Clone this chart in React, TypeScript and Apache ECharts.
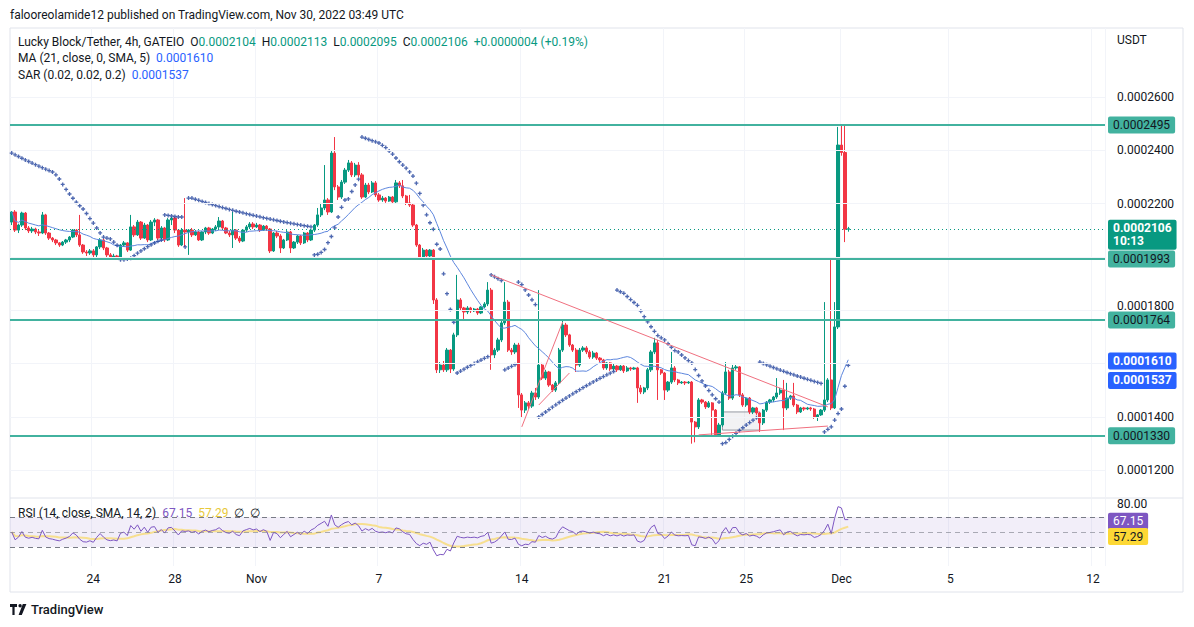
import React, { useEffect, useRef } from "react";
import * as echarts from "echarts";

// ---------- data (prices in units of 1e-7 USDT) ----------
const UNIT = 1e-7;
const SLOT_COUNT = 322; // 4h slots from Oct 20 2022 00:00 UTC, incl. empty future slots
const START_UTC = Date.UTC(2022, 9, 20, 0, 0);
const BAR_MS = 4 * 3600 * 1000;

// [open, close, low, high]
const candles: number[][] = [
  [2131,2169,2120,2172],[2169,2101,2094,2176],[2101,2120,2090,2125],[2120,2165,2113,2170],[2165,2109,2101,2169],
  [2109,2098,2090,2116],[2098,2105,2090,2113],[2105,2094,2086,2110],[2094,2090,2079,2101],[2090,2158,2086,2169],
  [2158,2090,2083,2162],[2090,2071,2064,2094],[2071,2064,2056,2075],[2064,2053,2045,2068],[2053,2045,2038,2056],
  [2045,2056,2041,2060],[2056,2064,2049,2068],[2064,2075,2056,2079],[2075,2101,2071,2105],[2101,2083,2075,2105],
  [2083,2045,2038,2158],[2045,2019,2012,2049],[2019,2015,2004,2026],[2015,2023,2008,2030],[2023,2008,1996,2030],
  [2008,2038,1993,2041],[2038,2064,2030,2071],[2064,2034,2026,2068],[2034,2008,2000,2038],[2008,2000,1993,2015],
  [2000,2004,1990,2012],[2004,1996,1990,2008],[1996,2045,1993,2049],[2045,2053,2038,2060],[2053,2026,2019,2056],
  [2026,2113,2023,2158],[2113,2083,2075,2120],[2083,2131,2079,2139],[2131,2071,2064,2135],[2071,2120,2068,2128],
  [2120,2064,2056,2124],[2064,2131,2060,2139],[2131,2139,2116,2146],[2139,2071,2064,2143],[2071,2109,2068,2116],
  [2109,2064,2056,2113],[2064,2139,2060,2146],[2139,2146,2120,2150],[2146,2101,2090,2150],[2101,2045,2038,2105],
  [2045,2101,2041,2109],[2101,2094,2038,2221],[2094,2101,2008,2105],[2101,2083,2075,2109],[2083,2094,2079,2101],
  [2094,2064,2060,2098],[2064,2094,2060,2098],[2094,2109,2086,2113],[2109,2090,2083,2113],[2090,2105,2086,2109],
  [2105,2113,2098,2120],[2113,2135,2105,2150],[2135,2109,2101,2139],[2109,2090,2086,2113],[2090,2083,2075,2098],
  [2083,2101,2034,2169],[2101,2071,2064,2105],[2071,2060,2053,2079],[2060,2101,2056,2105],[2101,2113,2094,2120],
  [2113,2124,2105,2131],[2124,2113,2105,2131],[2113,2120,2109,2128],[2120,2101,2094,2124],[2101,2116,2098,2120],
  [2116,2105,2098,2120],[2105,2023,2015,2109],[2023,2090,2019,2094],[2090,2079,2071,2098],[2079,2034,2015,2086],
  [2034,2064,2030,2068],[2064,2094,2060,2101],[2094,2034,2015,2098],[2034,2056,2030,2060],[2056,2079,2049,2083],
  [2079,2053,2045,2083],[2053,2090,2049,2094],[2090,2064,2056,2094],[2064,2101,2060,2105],[2101,2120,2094,2124],
  [2120,2158,2113,2184],[2158,2184,2150,2203],[2184,2214,2176,2345],[2214,2169,2158,2221],[2169,2390,2165,2401],
  [2390,2263,2251,2450],[2263,2225,2214,2270],[2225,2281,2218,2289],[2281,2326,2274,2334],[2326,2353,2319,2364],
  [2353,2308,2300,2360],[2308,2345,2300,2353],[2345,2308,2300,2356],[2308,2225,2218,2315],[2225,2270,2221,2278],
  [2270,2244,2236,2278],[2244,2278,2240,2285],[2278,2233,2225,2285],[2233,2214,2207,2240],[2214,2221,2207,2229],
  [2221,2210,2203,2225],[2210,2225,2207,2229],[2225,2207,2199,2229],[2207,2278,2203,2289],[2278,2267,2259,2285],
  [2267,2229,2221,2289],[2229,2203,2195,2233],[2203,2195,2188,2233],[2195,2120,2113,2199],[2120,2045,2038,2124],
  [2045,2000,1993,2049],[2000,2026,1996,2034],[2026,2004,1996,2030],[2004,2026,2000,2030],[2026,1839,1824,2030],
  [1839,1577,1565,1846],[1577,1595,1565,1606],[1595,1577,1569,1610],[1577,1651,1569,1659],[1651,1580,1565,1655],
  [1580,1708,1573,1716],[1708,1839,1700,1933],[1839,1809,1798,1846],[1809,1794,1764,1813],[1794,1809,1786,1816],
  [1809,1798,1790,1813],[1798,1805,1794,1809],[1805,1790,1783,1809],[1790,1813,1786,1816],[1813,1824,1809,1831],
  [1824,1876,1816,1906],[1876,1633,1577,1884],[1633,1651,1621,1659],[1651,1689,1644,1697],[1689,1753,1681,1760],
  [1753,1831,1745,1906],[1831,1651,1644,1839],[1651,1644,1633,1659],[1644,1670,1636,1678],[1670,1483,1434,1678],
  [1483,1426,1400,1490],[1426,1453,1415,1460],[1453,1441,1430,1460],[1441,1490,1434,1498],[1490,1475,1464,1509],
  [1475,1595,1468,1876],[1595,1546,1539,1603],[1546,1569,1539,1577],[1569,1520,1513,1573],[1520,1501,1494,1524],
  [1501,1528,1494,1535],[1528,1651,1520,1659],[1651,1745,1644,1760],[1745,1708,1700,1753],[1708,1670,1663,1712],
  [1670,1651,1644,1674],[1651,1595,1569,1659],[1595,1651,1588,1659],[1651,1659,1644,1666],[1659,1644,1636,1666],
  [1644,1625,1618,1651],[1625,1640,1618,1648],[1640,1621,1614,1644],[1621,1614,1606,1625],[1614,1584,1577,1618],
  [1584,1603,1577,1606],[1603,1580,1573,1606],[1580,1591,1573,1599],[1591,1577,1569,1595],[1577,1591,1573,1595],
  [1591,1573,1565,1595],[1573,1584,1569,1591],[1584,1580,1573,1588],[1580,1584,1577,1588],[1584,1509,1453,1588],
  [1509,1494,1486,1520],[1494,1509,1486,1513],[1509,1577,1501,1584],[1577,1644,1569,1651],[1644,1678,1636,1697],
  [1678,1577,1464,1689],[1577,1565,1558,1580],[1565,1501,1464,1569],[1501,1531,1494,1535],[1531,1584,1524,1644],
  [1584,1539,1531,1591],[1539,1528,1520,1543],[1528,1531,1524,1535],[1531,1528,1520,1535],[1528,1531,1524,1535],
  [1531,1381,1300,1535],[1381,1363,1305,1385],[1363,1464,1355,1471],[1464,1456,1449,1468],[1456,1438,1430,1460],
  [1438,1453,1434,1460],[1453,1426,1325,1456],[1426,1333,1325,1430],[1333,1370,1325,1378],[1370,1490,1363,1498],
  [1490,1569,1483,1606],[1569,1471,1464,1577],[1471,1584,1464,1595],[1584,1588,1577,1595],[1588,1483,1475,1591],
  [1483,1445,1438,1490],[1445,1471,1438,1475],[1471,1419,1411,1475],[1419,1434,1411,1438],[1434,1415,1408,1438],
  [1415,1378,1344,1419],[1378,1426,1370,1430],[1426,1456,1419,1460],[1456,1464,1449,1468],[1464,1475,1456,1479],
  [1475,1490,1468,1546],[1490,1501,1483,1509],[1501,1434,1351,1539],[1434,1471,1426,1528],[1471,1479,1464,1483],
  [1479,1445,1438,1528],[1445,1419,1411,1449],[1419,1434,1415,1438],[1434,1430,1423,1438],[1430,1434,1426,1438],
  [1434,1430,1423,1438],[1430,1400,1393,1434],[1400,1408,1385,1411],[1408,1426,1404,1430],[1426,1464,1419,1831],
  [1464,1539,1456,1546],[1539,1434,1426,1996],[1434,1738,1430,1831],[1738,2420,1730,2488],[2420,2392,2380,2497],
  [2392,2104,2056,2497],[2104,2106,2095,2113],
];

const dateTickSlots = [24, 48, 72, 108, 150, 192, 216, 244, 276, 318];
const dateTickLabels = ["24", "28", "Nov", "7", "14", "21", "25", "Dec", "5", "12"];
const priceTickLabels = [0.00012, 0.00014, 0.00018, 0.00022, 0.00024, 0.00026];
const priceGridValues = [0.00012, 0.00014, 0.00016, 0.00018, 0.0002, 0.00022, 0.00024, 0.00026];
const levelValues = [0.0002495, 0.0001993, 0.0001764, 0.000133];
const lastBar = { open: "0.0002104", high: "0.0002113", low: "0.0002095", close: "0.0002106", change: "+0.0000004 (+0.19%)" };
const LAST_CLOSE = 0.0002106;
const COUNTDOWN = "10:13";
const MA_LAST = 0.000161;
const SAR_LAST = 0.0001537;
const RSI_LAST = 67.15;
const RSI_MA_LAST = 57.29;
const rsiLevels = [70, 50, 30];
// drawn trend lines: [slotA, priceA, slotB, priceB] (1e-7 units)
const trendLines = [
  [141, 1933, 240, 1438],
  [150, 1363, 162, 1756],
  [155, 1445, 164, 1565],
  [202, 1333, 240, 1366],
];
const boxZone = [209, 1419, 220, 1351];
const SAR_INIT = { up: false, sar: 2390, ep: 2060, af: 0.02 };
const RSI_SEED_AVG = 10;

// ---------- derived ----------
const slots = Array.from({ length: SLOT_COUNT }, (_, i) =>
  new Date(START_UTC + i * BAR_MS).toISOString().slice(0, 16).replace("T", " ")
);
const tickSet = new Map<number, string>();
dateTickSlots.forEach((s, k) => tickSet.set(s, dateTickLabels[k]));

const closes = candles.map((c) => c[1]);
const lows = candles.map((c) => c[2]);
const highs = candles.map((c) => c[3]);

function sma(vals: number[], len: number) {
  return vals.map((_, i) => {
    const from = Math.max(0, i - len + 1);
    let s = 0;
    for (let k = from; k <= i; k++) s += vals[k];
    return s / (i - from + 1);
  });
}

function parabolicSar(h: number[], l: number[], start: number, inc: number, max: number) {
  let up = SAR_INIT.up, sar = SAR_INIT.sar, ep = SAR_INIT.ep, af = SAR_INIT.af;
  const out: number[] = [];
  for (let i = 0; i < h.length; i++) {
    if (i > 0) {
      sar = sar + af * (ep - sar);
      if (up) {
        sar = Math.min(sar, l[i - 1], i > 1 ? l[i - 2] : l[i - 1]);
        if (l[i] < sar) { up = false; sar = ep; ep = l[i]; af = start; }
        else if (h[i] > ep) { ep = h[i]; af = Math.min(af + inc, max); }
      } else {
        sar = Math.max(sar, h[i - 1], i > 1 ? h[i - 2] : h[i - 1]);
        if (h[i] > sar) { up = true; sar = ep; ep = h[i]; af = start; }
        else if (l[i] < ep) { ep = l[i]; af = Math.min(af + inc, max); }
      }
    }
    out.push(sar);
  }
  return out;
}

function rsi(c: number[], len: number) {
  let ag = RSI_SEED_AVG, al = RSI_SEED_AVG;
  const out: number[] = [50];
  for (let i = 1; i < c.length; i++) {
    const d = c[i] - c[i - 1];
    ag = (ag * (len - 1) + Math.max(d, 0)) / len;
    al = (al * (len - 1) + Math.max(-d, 0)) / len;
    out.push(al === 0 ? 100 : 100 - 100 / (1 + ag / al));
  }
  return out;
}

const kData = candles.map((c) => c.map((v) => v * UNIT));
const maData = sma(closes, 21).map((v) => v * UNIT);
const sarData = parabolicSar(highs, lows, 0.02, 0.02, 0.2).map((v) => v * UNIT);
const rsiData = rsi(closes, 14);
const rsiMaData = sma(rsiData, 14);

const FONT = "Roboto";
const TEXT = "#131722";
const UP = "#089981";
const DOWN = "#f23645";
const TEAL = "#42b29f";
const BLUE = "#2962ff";

const tvLogoPath =
  "M0 0H7V3H4.6V11H2.4V3H0Z M8.4 1.7a1.7 1.7 0 1 0 3.4 0a1.7 1.7 0 1 0 -3.4 0Z M12.8 0H16.4L11.8 11H8.6Z";
echarts.graphic.registerShape("tvlogo", echarts.graphic.extendPath(tvLogoPath, {}));

function boxLabel(text: string, bg: string, color: string, extra: any = {}) {
  return {
    show: true,
    position: "end",
    distance: 3,
    formatter: text,
    backgroundColor: bg,
    color,
    fontFamily: FONT,
    fontSize: 12,
    lineHeight: 13,
    padding: [2, 5, 2, 5],
    borderRadius: 2,
    ...extra,
  };
}

function richStyle(map: Record<string, string>) {
  const rich: any = {};
  Object.keys(map).forEach((k) => {
    rich[k] = { fill: map[k], fontSize: 12, fontFamily: FONT };
  });
  return rich;
}

export default function App() {
  const ref = useRef<HTMLDivElement>(null);
  useEffect(() => {
    if (!ref.current) return;
    const chart = echarts.init(ref.current, undefined, { renderer: "svg" });
    const tickInterval = (idx: number) => tickSet.has(idx);

    const option: any = {
      animation: false,
      backgroundColor: "#ffffff",
      textStyle: { fontFamily: FONT },
      grid: [
        { left: 10, top: 28, width: 1095, height: 469 },
        { left: 10, top: 499, width: 1095, height: 67 },
      ],
      xAxis: [
        {
          type: "category", gridIndex: 0, data: slots, boundaryGap: true,
          axisLine: { show: false }, axisTick: { show: false }, axisLabel: { show: false },
          splitLine: { show: true, interval: tickInterval, lineStyle: { color: "#f2f4f9", width: 1 } },
        },
        {
          type: "category", gridIndex: 1, data: slots, boundaryGap: true,
          axisLine: { show: false }, axisTick: { show: false },
          axisLabel: {
            show: true, interval: tickInterval, margin: 7,
            formatter: (_v: string, idx: number) => tickSet.get(idx) || "",
            color: TEXT, fontSize: 12, fontFamily: FONT,
          },
          splitLine: { show: true, interval: tickInterval, lineStyle: { color: "#f2f4f9", width: 1 } },
        },
      ],
      yAxis: [
        {
          type: "value", gridIndex: 0, position: "right", min: 1100 * UNIT, max: 2859 * UNIT,
          axisLine: { show: false }, axisTick: { show: false }, splitLine: { show: false },
          axisLabel: {
            customValues: priceTickLabels, margin: 12,
            // the 0.00018 tick sits just above the 0.0001764 level box: lift it clear of the box
            formatter: (v: number) =>
              Math.abs(v - 0.00018) < 1e-9 ? `{up|${v.toFixed(7)}}` : v.toFixed(7),
            rich: { up: { color: TEXT, fontSize: 12, fontFamily: FONT, padding: [0, 0, 9, 0] } },
            color: TEXT, fontSize: 12, fontFamily: FONT,
          },
        },
        {
          type: "value", gridIndex: 1, position: "right", min: 4.7, max: 94,
          axisLine: { show: false }, axisTick: { show: false }, splitLine: { show: false },
          axisLabel: {
            customValues: [80], margin: 12, verticalAlign: "bottom", lineHeight: 11,
            formatter: (v: number) => v.toFixed(2), color: TEXT, fontSize: 12, fontFamily: FONT,
          },
        },
      ],
      series: [
        {
          name: "grid", type: "line", xAxisIndex: 0, yAxisIndex: 0, data: maData, silent: true, z: 1,
          showSymbol: false, symbol: "none", lineStyle: { opacity: 0, width: 0 },
          markLine: {
            silent: true, symbol: ["none", "none"], label: { show: false }, precision: 10,
            lineStyle: { color: "#f2f4f9", width: 1, type: "solid" },
            data: priceGridValues.map((v) => ({ yAxis: v })),
          },
        },
        {
          name: "Lucky Block/Tether", type: "candlestick", xAxisIndex: 0, yAxisIndex: 0, z: 3,
          data: kData, barWidth: 2.8,
          itemStyle: { color: UP, color0: DOWN, borderColor: UP, borderColor0: DOWN, borderWidth: 1 },
          markLine: {
            silent: true, symbol: ["none", "none"], precision: 10,
            data: [
              ...levelValues.map((v) => ({
                yAxis: v,
                lineStyle: { color: TEAL, width: 2, type: "solid" },
                label: boxLabel(v.toFixed(7), TEAL, TEXT),
              })),
              {
                yAxis: LAST_CLOSE,
                lineStyle: { color: UP, width: 1, type: [1, 3] },
                label: boxLabel(LAST_CLOSE.toFixed(7) + "\n" + COUNTDOWN, UP, "#ffffff", { fontWeight: "bold", offset: [0, 6] }),
              },
              {
                yAxis: MA_LAST,
                lineStyle: { color: "rgba(0,0,0,0)", width: 0 },
                label: boxLabel(MA_LAST.toFixed(7), BLUE, "#ffffff", { fontWeight: "bold" }),
              },
              {
                yAxis: SAR_LAST,
                lineStyle: { color: "rgba(0,0,0,0)", width: 0 },
                label: boxLabel(SAR_LAST.toFixed(7), BLUE, "#ffffff", { fontWeight: "bold" }),
              },
            ],
          },
        },
        {
          name: "MA", type: "line", xAxisIndex: 0, yAxisIndex: 0, z: 4, data: maData,
          showSymbol: false, symbol: "none", lineStyle: { color: "#5d86dd", width: 1 },
          markArea: {
            silent: true,
            itemStyle: { color: "rgba(149,152,161,0.12)", borderColor: "#9598a1", borderWidth: 1 },
            data: [[
              { coord: [boxZone[0], boxZone[1] * UNIT] },
              { coord: [boxZone[2], boxZone[3] * UNIT] },
            ]],
          },
          markLine: {
            silent: true, symbol: ["none", "none"], label: { show: false }, precision: 10,
            lineStyle: { color: "#f0707f", width: 1, type: "solid" },
            data: trendLines.map((t) => [
              { coord: [t[0], t[1] * UNIT] },
              { coord: [t[2], t[3] * UNIT] },
            ]),
          },
        },
        {
          name: "SAR", type: "scatter", xAxisIndex: 0, yAxisIndex: 0, z: 4, data: sarData,
          symbol: "path://M2,0H4V2H6V4H4V6H2V4H0V2H2Z", symbolSize: 4,
          itemStyle: { color: "#23439e" },
        },
        {
          name: "RSI", type: "line", xAxisIndex: 1, yAxisIndex: 1, z: 4, data: rsiData,
          showSymbol: false, symbol: "none", lineStyle: { color: "#7e57c2", width: 1 },
          markArea: {
            silent: true, itemStyle: { color: "rgba(126,87,194,0.1)" },
            data: [[{ yAxis: 70 }, { yAxis: 30 }]],
          },
          markLine: {
            silent: true, symbol: ["none", "none"], precision: 4,
            data: [
              ...rsiLevels.map((v) => ({
                yAxis: v, label: { show: false },
                lineStyle: { color: "#787b86", width: 1, type: [5, 4], opacity: v === 50 ? 0.6 : 1 },
              })),
              {
                yAxis: RSI_LAST,
                lineStyle: { color: "rgba(0,0,0,0)", width: 0 },
                label: boxLabel(RSI_LAST.toFixed(2), "#7e57c2", "#ffffff", { offset: [0, 2] }),
              },
              {
                yAxis: RSI_MA_LAST,
                lineStyle: { color: "rgba(0,0,0,0)", width: 0 },
                label: boxLabel(RSI_MA_LAST.toFixed(2), "#fdd835", TEXT, { offset: [0, 10] }),
              },
            ],
          },
        },
        {
          name: "RSI MA", type: "line", xAxisIndex: 1, yAxisIndex: 1, z: 3, data: rsiMaData,
          showSymbol: false, symbol: "none", lineStyle: { color: "#f7df8f", width: 2 },
        },
      ],
      graphic: [
        {
          type: "rect", silent: true, z: -1,
          shape: { x: 10, y: 28, width: 1173, height: 564 },
          style: { fill: "none", stroke: "#e0e3eb", lineWidth: 1 },
        },
        {
          type: "line", silent: true,
          shape: { x1: 10, y1: 498, x2: 1183, y2: 498 },
          style: { stroke: "#e0e3eb", lineWidth: 1 },
        },
        {
          type: "text", x: 10, y: 15, z: 100,
          style: {
            text: "{d|falooreolamide12 published on TradingView.com, Nov 30, 2022 03:49 UTC}",
            rich: richStyle({ d: TEXT }), verticalAlign: "middle",
          },
        },
        {
          type: "text", x: 18, y: 42, z: 100,
          style: {
            text:
              `{d|Lucky Block/Tether, 4h, GATEIO  O}{g|${lastBar.open}}{d|  H}{g|${lastBar.high}}` +
              `{d|  L}{g|${lastBar.low}}{d|  C}{g|${lastBar.close}}{g|  ${lastBar.change}}`,
            rich: richStyle({ d: TEXT, g: UP }), verticalAlign: "middle",
          },
        },
        {
          type: "text", x: 18, y: 58, z: 100,
          style: {
            text: `{d|MA (21, close, 0, SMA, 5)  }{b|${MA_LAST.toFixed(7)}}`,
            rich: richStyle({ d: TEXT, b: BLUE }), verticalAlign: "middle",
          },
        },
        {
          type: "text", x: 18, y: 75, z: 100,
          style: {
            text: `{d|SAR (0.02, 0.02, 0.2)  }{b|${SAR_LAST.toFixed(7)}}`,
            rich: richStyle({ d: TEXT, b: BLUE }), verticalAlign: "middle",
          },
        },
        {
          type: "text", x: 18, y: 513, z: 100,
          style: {
            text: `{d|RSI (14, close, SMA, 14, 2)  }{p|${RSI_LAST.toFixed(2)}}{d|  }{y|${RSI_MA_LAST.toFixed(2)}}{d|  ∅  ∅}`,
            rich: richStyle({ d: TEXT, p: "#7e57c2", y: "#e8c93a" }), verticalAlign: "middle",
          },
        },
        {
          type: "text", x: 1117, y: 40, z: 100,
          style: { text: "USDT", fill: TEXT, font: `12px ${FONT}`, verticalAlign: "middle" },
        },
        {
          type: "tvlogo", x: 10, y: 604, scaleX: 1, scaleY: 1,
          style: { fill: TEXT },
        },
        {
          type: "text", x: 31, y: 609,
          style: { text: "TradingView", fill: TEXT, font: `500 13px ${FONT}`, verticalAlign: "middle" },
        },
      ],
    };
    chart.setOption(option);
    return () => chart.dispose();
  }, []);

  return (
    <div
      ref={ref}
      style={{ position: "fixed", left: 0, top: 0, width: 1194, height: 627, background: "#ffffff" }}
    />
  );
}
